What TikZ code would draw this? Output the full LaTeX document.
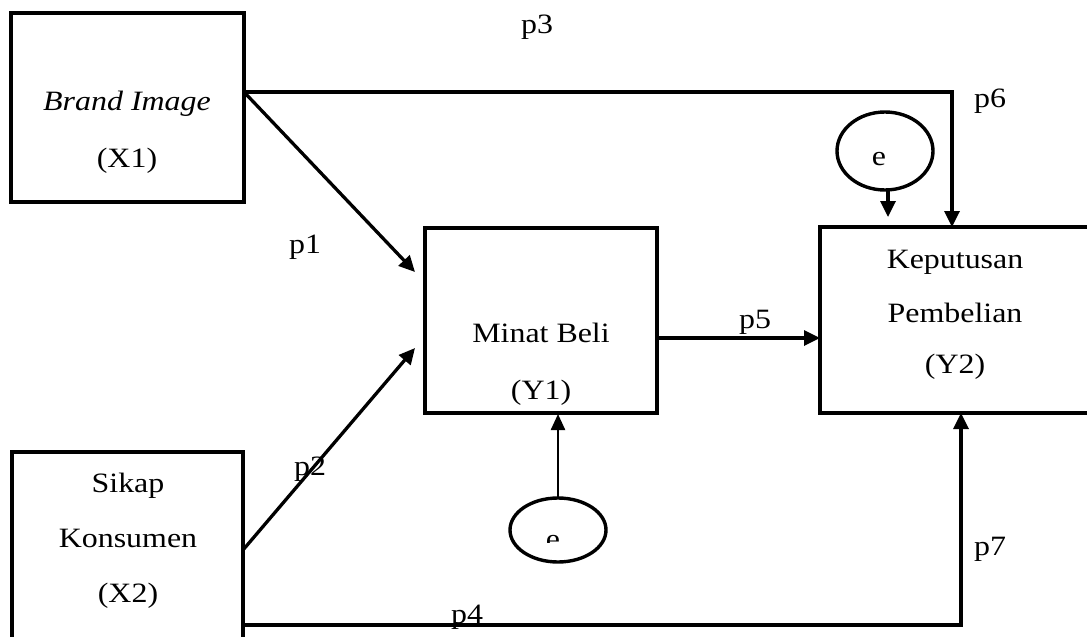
\documentclass[tikz,border=0pt]{standalone}
\usepackage{fontspec}
\setmainfont{Liberation Serif}[FakeStretch=1.14]
\usetikzlibrary{arrows.meta,shapes.geometric,calc}
\begin{document}
\begin{tikzpicture}[x=1pt,y=-1pt,
  box/.style={draw,line width=3.6pt,rectangle,inner sep=0pt,outer sep=0pt},
  ell/.style={draw,line width=3.4pt,ellipse,inner sep=0pt,outer sep=0pt},
  txt/.style={anchor=base,inner sep=0pt,font=\fontsize{28}{33}\selectfont},
  conn/.style={line width=3.3pt,-{Triangle[length=16pt,width=15pt]}},
  connthin/.style={line width=2.4pt,-{Triangle[length=16pt,width=14pt]}}]
\clip (0,0) rectangle (1087,637);
\fill[white] (0,0) rectangle (1087,637);
% boxes
\node[box,minimum width=233pt,minimum height=189pt] (x1) at (127.5,107.5) {};
\node[box,minimum width=231pt,minimum height=193pt] (x2) at (127.5,548.5) {};
\node[box,minimum width=232pt,minimum height=185pt] (y1) at (541,320.5) {};
\node[box,minimum width=272pt,minimum height=186pt] (y2) at (956,320) {};
% ellipses
\node[ell,minimum width=96pt,minimum height=64pt] (e1) at (558,530) {};
\node[ell,minimum width=96pt,minimum height=78pt] (e2) at (885,151) {};
% box texts
\node[txt] (x1a) at (127,110) {\textit{Brand Image}};
\node[txt] (x1b) at (127,167) {(X1)};
\node[txt] (x2a) at (128,492) {Sikap};
\node[txt] (x2b) at (128,547) {Konsumen};
\node[txt] (x2c) at (128,602) {(X2)};
\node[txt] (y1a) at (541,342) {Minat Beli};
\node[txt] (y1b) at (541,399) {(Y1)};
\node[txt] (y2a) at (955,268) {Keputusan};
\node[txt] (y2b) at (955,322) {Pembelian};
\node[txt] (y2c) at (955,373) {(Y2)};
\node[txt] (e2t) at (879,165) {e};
\begin{scope}
  \clip (500,480) rectangle (620,542);
  \node[txt] (e1t) at (553,548) {e};
\end{scope}
% helper coordinates
\coordinate (s1) at ([yshift=15.5pt]x1.east);
\coordinate (p1end) at (415,272);
\coordinate (s2) at ([yshift=-1.5pt]x2.east);
\coordinate (p2end) at (415,348);
\coordinate (s5) at ([yshift=-17.5pt]y1.east);
\coordinate (k6) at ([xshift=-4pt]y2.north);
\coordinate (s7) at ([yshift=-76.5pt]x2.east);
\coordinate (k7) at ([xshift=5pt]y2.south);
\coordinate (e2end) at ([xshift=3pt,yshift=10pt]e2.south |- y2.north);
% connectors
\draw[conn] (s1) -- (p1end);
\draw[conn] (s2) -- (p2end);
\draw[conn] (s1) -| (k6);
\draw[conn] (s5) -- (s5 -| y2.west);
\draw[conn] (s7) -| (k7);
\draw[connthin,shorten >=1pt] (e1.north) -- (e1.north |- y1.south);
\draw[conn] ([xshift=3pt]e2.south) -- (e2end);
% path labels
\node[txt] (l3) at (537,34) {p3};
\node[txt] (l6) at (990,107) {p6};
\node[txt] (l1) at (305,253) {p1};
\node[txt] (l2) at (310,475) {p2};
\node[txt] (l5) at (755,328) {p5};
\node[txt] (l4) at (467,623) {p4};
\node[txt] (l7) at (990,555) {p7};
\end{tikzpicture}
\end{document}
